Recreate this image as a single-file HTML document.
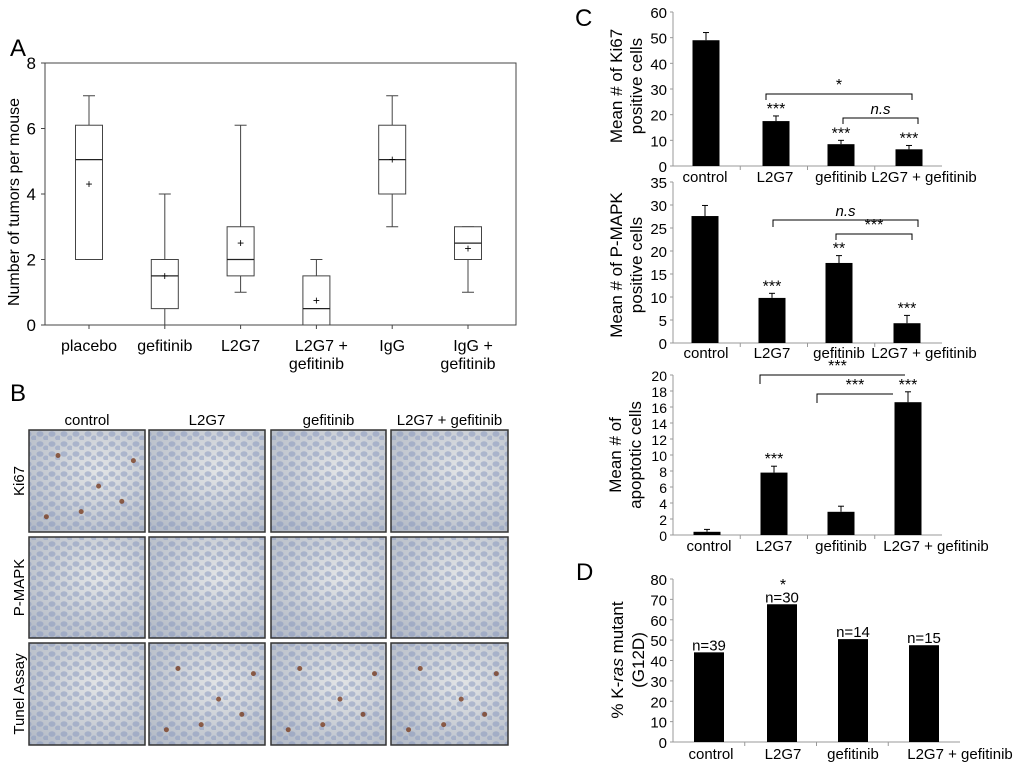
<!DOCTYPE html>
<html><head><meta charset="utf-8"><style>
html,body{margin:0;padding:0;background:#fff;}
svg{display:block;font-family:"Liberation Sans",Arial,sans-serif;}
</style></head><body>
<svg id="fig" width="1024" height="769" viewBox="0 0 1024 769">
<defs>
<radialGradient id="tis" cx="0.6" cy="0.4" r="0.8"><stop offset="0" stop-color="#e2e4e6"/><stop offset="1" stop-color="#b3bac6"/></radialGradient>
<pattern id="cells" width="12" height="10" patternUnits="userSpaceOnUse"><ellipse cx="4" cy="4" rx="3.5" ry="2.8" fill="#8696bd" opacity="0.5"/><ellipse cx="10" cy="8" rx="3" ry="2.5" fill="#8494c0" opacity="0.45"/></pattern>
</defs>
<text x="10" y="56" font-size="24">A</text>
<text x="10" y="401" font-size="24">B</text>
<text x="575" y="26" font-size="24">C</text>
<text x="576" y="580" font-size="24">D</text>
<g id="pa"></g>
<g id="pb"></g>
<g id="pc1"></g>
<g id="pc2"></g>
<g id="pc3"></g>
<g id="pd"></g>
</svg>
<script>
// Panel A data
const aCats=[["placebo"],["gefitinib"],["L2G7"],["L2G7  +","gefitinib"],["IgG"],["IgG +","gefitinib"]];
const aWhLo=[2,0,1,0,3,1];
const aQ1=[2,0.5,1.5,0,4,2];
const aMed=[5.05,1.5,2,0.5,5.05,2.5];
const aQ3=[6.1,2,3,1.5,6.1,3];
const aWhHi=[7,4,6.1,2,7,3];
const aMean=[4.3,1.5,2.5,0.75,5.05,2.33];
const aTicks=[0,2,4,6,8];
// Panel C data
const cCats=["control","L2G7","gefitinib","L2G7 + gefitinib"];
const ki67=[49,17.5,8.5,6.5];
const ki67Err=[3,2,1.5,1.5];
const ki67Stars=["","***","***","***"];
const ki67Ticks=[0,10,20,30,40,50,60];
const pmapk=[27.6,9.8,17.4,4.3];
const pmapkErr=[2.3,1,1.6,1.7];
const pmapkStars=["","***","**","***"];
const pmapkTicks=[0,5,10,15,20,25,30,35];
const apop=[0.4,7.8,2.9,16.6];
const apopErr=[0.3,0.8,0.7,1.3];
const apopStars=["","***","","***"];
const apopTicks=[0,2,4,6,8,10,12,14,16,18,20];
// Panel D data
const dCats=["control","L2G7","gefitinib","L2G7 +  gefitinib"];
const kras=[44,67.6,50.5,47.5];
const krasN=["n=39","n=30","n=14","n=15"];
const krasTicks=[0,10,20,30,40,50,60,70,80];
const bRows=["Ki67","P-MAPK","Tunel Assay"];
const bCols=["control","L2G7","gefitinib","L2G7 + gefitinib"];

const NS="http://www.w3.org/2000/svg";
function mk(p,t,a,txt){const e=document.createElementNS(NS,t);for(const k in a)e.setAttribute(k,a[k]);if(txt!==undefined)e.textContent=txt;p.appendChild(e);return e;}

// ---------- Panel A ----------
(function(){
const g=document.getElementById('pa');
const L=45,R=516,T=63,B=325;
const y=v=>B-(v/8)*(B-T);
const xs=[89,166,242,317,393,468];
const x=i=>xs[0]+i*(xs[5]-xs[0])/5;
let r=mk(g,'rect',{x:L,y:T,width:R-L,height:B-T,fill:'none',stroke:'#444','stroke-width':1});

aTicks.forEach(t=>{let e=mk(g,'text',{x:36,y:y(t)+6,'font-size':17,'text-anchor':'end'},t);

mk(g,'line',{x1:L-4,x2:L,y1:y(t),y2:y(t),stroke:'#444'});});
let yt=mk(g,'text',{x:0,y:0,'font-size':16,'text-anchor':'middle',transform:`translate(19,${(T+B)/2+8}) rotate(-90)`},'Number of tumors per mouse');

aCats.forEach((c,i)=>{const cx=x(i),w=13.5;
const bg=mk(g,'g',{});
mk(bg,'line',{x1:cx,x2:cx,y1:B,y2:B+4,stroke:'#444'});
mk(bg,'line',{x1:cx,x2:cx,y1:y(aWhHi[i]),y2:y(aQ3[i]),stroke:'#444'});
mk(bg,'line',{x1:cx,x2:cx,y1:y(aQ1[i]),y2:y(aWhLo[i]),stroke:'#444'});
mk(bg,'line',{x1:cx-6,x2:cx+6,y1:y(aWhHi[i]),y2:y(aWhHi[i]),stroke:'#444'});
mk(bg,'line',{x1:cx-6,x2:cx+6,y1:y(aWhLo[i]),y2:y(aWhLo[i]),stroke:'#444'});
mk(bg,'rect',{x:cx-w,y:y(aQ3[i]),width:2*w,height:y(aQ1[i])-y(aQ3[i]),fill:'#fff',stroke:'#444'});
mk(bg,'line',{x1:cx-w,x2:cx+w,y1:y(aMed[i]),y2:y(aMed[i]),stroke:'#222','stroke-width':1.3});
mk(bg,'text',{x:cx,y:y(aMean[i])+4,'font-size':12,'text-anchor':'middle'},'+');
c.forEach((ln,j)=>{let e=mk(g,'text',{x:cx+(c.length>1&&j==0?5:0),y:351+j*18,'font-size':16,'text-anchor':'middle'},ln);
});
});
})();

// ---------- Panel B ----------
(function(){
const g=document.getElementById('pb');
const cx0=[29,149,271,391],cw=[116,116,115,117];
const ry0=[430,537,643],rh=[102,101,102];
const spots=[[0.8,0.7],[0.25,0.25],[0.6,0.55],[0.15,0.85],[0.45,0.8],[0.9,0.3]];
bCols.forEach((c,j)=>{let e=mk(g,'text',{x:cx0[j]+cw[j]/2,y:425,'font-size':15,'text-anchor':'middle'},c);
});
bRows.forEach((r,i)=>{let e=mk(g,'text',{x:0,y:0,'font-size':15,'text-anchor':'middle',transform:`translate(24,${ry0[i]+rh[i]/2}) rotate(-90)`},r);

bCols.forEach((c,j)=>{const t=mk(g,'g',{});
mk(t,'rect',{x:cx0[j],y:ry0[i],width:cw[j],height:rh[i],fill:'url(#tis)'});
mk(t,'rect',{x:cx0[j],y:ry0[i],width:cw[j],height:rh[i],fill:'url(#cells)'});
if(i!=1&&(j==0||i==2)&&!(i==2&&j==0))spots.forEach(s=>mk(t,'circle',{cx:cx0[j]+s[0]*cw[j],cy:ry0[i]+s[1]*rh[i],r:2.5,fill:'#7a3f22',opacity:0.8}));
mk(t,'rect',{x:cx0[j],y:ry0[i],width:cw[j],height:rh[i],fill:'none',stroke:'#333','stroke-width':1.5});});});
})();

// ---------- Bar chart helper ----------
function barChart(id,o){
const g=document.getElementById(id);
const y=v=>o.base-(v/o.max)*(o.base-o.top);
mk(g,'line',{x1:o.L,x2:o.L,y1:o.top,y2:o.base,stroke:'#999'});
mk(g,'line',{x1:o.L,x2:o.R,y1:o.base,y2:o.base,stroke:'#999'});
o.ticks.forEach(t=>{let e=mk(g,'text',{x:o.L-6,y:y(t)+6,'font-size':o.fs,'text-anchor':'end'},t);

mk(g,'line',{x1:o.L-3,x2:o.L,y1:y(t),y2:y(t),stroke:'#999'});});
const step=(o.R-o.L)/o.vals.length;
for(let k=1;k<o.vals.length;k++)mk(g,'line',{x1:o.L+k*step,x2:o.L+k*step,y1:o.base,y2:o.base+4,stroke:'#999'});
o.title.forEach((t,k)=>{let e=mk(g,'text',{x:0,y:0,'font-size':17,'text-anchor':'middle',transform:`translate(${o.tx[k]},${o.ty}) rotate(-90)`});
if(Array.isArray(t)){t.forEach(p=>{const s=mk(e,'tspan',{},p[0]);if(p[1])s.setAttribute('font-style','italic');});}else e.textContent=t;
});
o.vals.forEach((v,i)=>{const cx=o.cx[i];
let b=mk(g,'rect',{x:cx-o.bw/2,y:y(v),width:o.bw,height:o.base-y(v),fill:'#000'});

if(o.err){const ey=y(v+o.err[i]);mk(g,'line',{x1:cx,x2:cx,y1:y(v),y2:ey,stroke:'#000'});mk(g,'line',{x1:cx-3,x2:cx+3,y1:ey,y2:ey,stroke:'#000'});
if(o.stars[i]){let s=mk(g,'text',{x:cx,y:ey-2,'font-size':16,'text-anchor':'middle'},o.stars[i]);}}
if(o.ns){let s=mk(g,'text',{x:cx,y:y(v)-2,'font-size':15,'text-anchor':'middle'},o.ns[i]);}
let c=mk(g,'text',{x:o.lx[i],y:o.base+o.ly,'font-size':o.cfs,'text-anchor':'middle'},o.cats[i]);
});
(o.br||[]).forEach(b=>{const bg=mk(g,'g',{});
mk(bg,'polyline',{points:`${b[0]},${b[2]+b[4]} ${b[0]},${b[2]} ${b[1]},${b[2]} ${b[1]},${b[2]+b[5]}`,fill:'none',stroke:'#000'});
mk(bg,'text',{x:(b[0]+b[1])/2+(b[6]||0),y:b[2]-4,'font-size':b[3]=='n.s'?15:16,'text-anchor':'middle','font-style':b[3]=='n.s'?'italic':'normal'},b[3]);});
}
barChart('pc1',{L:673,R:942,top:12,base:166,max:60,ticks:ki67Ticks,vals:ki67,err:ki67Err,stars:ki67Stars,cats:cCats,
cx:[706,776,841,909],bw:27,fs:15,cfs:15,lx:[705,775,841,924],ly:16,title:["Mean # of Ki67","positive cells"],tx:[622,642],ty:86,
br:[[766,912,94,'*',6,6],[843,918,118,'n.s',6,6]]});
barChart('pc2',{L:673,R:942,top:182,base:343,max:35,ticks:pmapkTicks,vals:pmapk,err:pmapkErr,stars:pmapkStars,cats:cCats,
cx:[705,772,839,907],bw:27,fs:15,cfs:15,lx:[706,772,839,924],ly:15,title:["Mean # of P-MAPK","positive cells"],tx:[622,642],ty:265,
br:[[773,918,220,'n.s',7,7],[836,912,234,'***',6,6]]});
barChart('pc3',{L:673,R:942,top:375,base:535,max:20,ticks:apopTicks,vals:apop,err:apopErr,stars:apopStars,cats:cCats,
cx:[707,774,841,908],bw:27,fs:14,cfs:15,lx:[709,774,841,936],ly:16,title:["Mean # of","apoptotic cells"],tx:[621,641],ty:455,
br:[[760,905,375,'***',9,0,5],[817,893,394,'***',9,0]]});
barChart('pd',{L:673,R:960,top:579,base:742,max:80,ticks:krasTicks,vals:kras,cats:dCats,ns:krasN,
cx:[709,782,853,924],bw:30,fs:15,cfs:15,lx:[711,783,853,960],ly:17,title:[[["% K-",0],["ras",1],[" mutant",0]],"(G12D)"],tx:[623,644],ty:660});
(function(){const g=document.getElementById('pd');let s=mk(g,'text',{x:783,y:590,'font-size':16,'text-anchor':'middle'},'*');
})();
</script>
</body></html>
